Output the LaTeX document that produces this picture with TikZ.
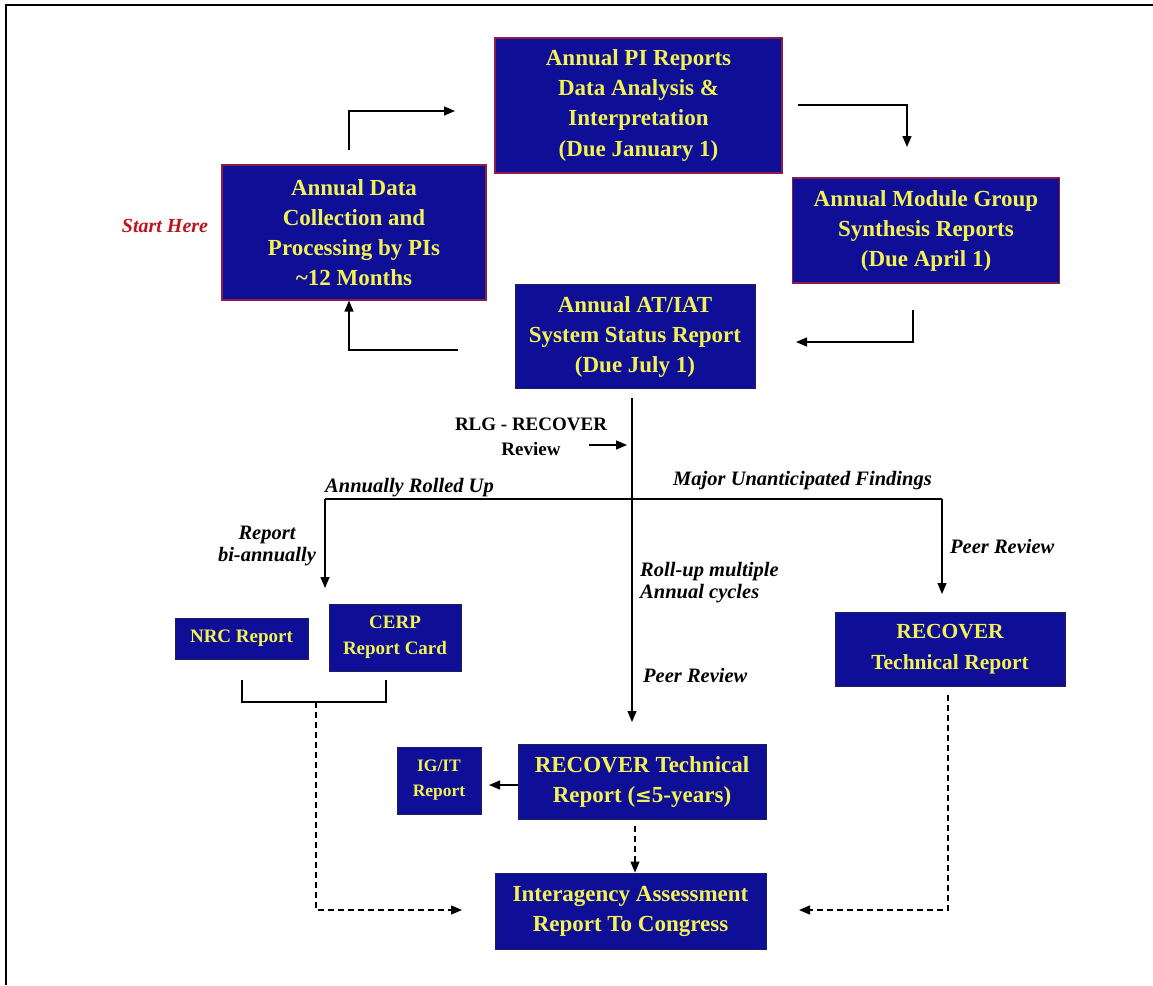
\documentclass[tikz,border=0pt]{standalone}
\usepackage{fontspec}
\setmainfont{Liberation Serif}
\usetikzlibrary{arrows.meta}
\definecolor{boxblue}{RGB}{14,14,150}
\definecolor{boxtext}{RGB}{242,242,84}
\definecolor{boxred}{RGB}{140,30,70}
\definecolor{boxnavy}{RGB}{30,30,90}
\definecolor{startred}{RGB}{190,20,30}
\tikzset{
  boxbase/.style={fill=boxblue, text=boxtext, align=center, inner sep=2pt,
    font=\fontsize{23}{30}\selectfont\bfseries},
  topbox/.style={boxbase, draw=boxred, line width=1.2pt},
  lowbox/.style={boxbase, draw=boxnavy, line width=1pt},
  tip/.style={-{Triangle[length=11pt,width=9pt]}},
  arr/.style={line width=1.3pt, tip},
  plain/.style={line width=1.3pt},
  dasharr/.style={line width=1.3pt, dash pattern=on 6pt off 4pt, tip},
  lab/.style={font=\fontsize{20.5}{22}\selectfont\bfseries\itshape, inner sep=0pt},
  blab/.style={font=\fontsize{19}{25}\selectfont\bfseries, inner sep=0pt, align=center},
}
\begin{document}
\begin{tikzpicture}[x=1pt,y=-1pt]
\useasboundingbox (0,0) rectangle (1153,985);
\fill[white] (0,0) rectangle (1153,985);
% frame
\draw[line width=2pt] (6,985) -- (6,5) -- (1153,5);

% boxes
\node[topbox, minimum width=287, minimum height=135] (pi) at (638.5,105.5)
  {Annual PI Reports\\Data Analysis \&\\Interpretation\\(Due January 1)};
\node[topbox, minimum width=264, minimum height=135] (data) at (354,232.5)
  {Annual Data\\Collection and\\Processing by PIs\\\textasciitilde12 Months};
\node[topbox, minimum width=267, minimum height=105] (mod) at (926,230.5)
  {Annual Module Group\\Synthesis Reports\\(Due April 1)};
\node[lowbox, minimum width=240, minimum height=104] (at) at (635,336.5)
  {Annual AT/IAT\\System Status Report\\(Due July 1)};
\node[lowbox, minimum width=133, minimum height=41, font=\fontsize{19}{26}\selectfont\bfseries] (nrc) at (241.5,638.5)
  {NRC Report};
\node[lowbox, minimum width=132, minimum height=67, font=\fontsize{19}{26}\selectfont\bfseries] (cerp) at (395,637.5)
  {CERP\\Report Card};
\node[lowbox, minimum width=230, minimum height=74, font=\fontsize{21.5}{31}\selectfont\bfseries] (rtr) at (950,649.5)
  {RECOVER\\Technical Report};
\node[lowbox, minimum width=84, minimum height=67, font=\fontsize{17.5}{25}\selectfont\bfseries] (igit) at (439,780.5)
  {IG/IT\\Report};
\node[lowbox, minimum width=248, minimum height=75] (rtr5) at (642,781.5)
  {RECOVER Technical\\Report ({\fontspec{DejaVu Serif}\fontsize{20}{30}\selectfont\bfseries ≤}5-years)};
\node[lowbox, minimum width=271, minimum height=76] (iar) at (630.5,911)
  {Interagency Assessment\\Report To Congress};

% labels
\node[font=\fontsize{20}{22}\selectfont\bfseries\itshape, text=startred, inner sep=0pt] (start) at (165,226) {Start Here};
\node[blab] (rlg) at (531,437) {RLG - RECOVER\\Review};
\node[lab, anchor=west] (annual) at (325,488) {Annually Rolled Up};
\node[lab, anchor=east] (major) at (932,481) {Major Unanticipated Findings};
\node[lab, align=center] (biann) at (267,546) {Report\\bi-annually};
\node[lab, align=left, anchor=west] (rollup) at (640,583) {Roll-up multiple\\Annual cycles};
\node[lab, anchor=west] (peer1) at (643,675) {Peer Review};
\node[lab, anchor=west] (peer2) at (950,546) {Peer Review};

% top cycle connectors
\coordinate (c1) at (349,150);
\coordinate (c2) at (349,111);
\coordinate (c3) at (455,111);
\draw[arr] (c1) -- (c2) -- (c3);
\coordinate (c4) at (798,105);
\coordinate (c5) at (907,105);
\coordinate (c6) at (907,147);
\draw[arr] (c4) -- (c5) -- (c6);
\coordinate (c7) at (913,310);
\coordinate (c8) at (913,342);
\coordinate (c9) at (796,342);
\draw[arr] (c7) -- (c8) -- (c9);
\coordinate (c10) at (458,350);
\coordinate (c11) at (349,350);
\draw[arr] (c10) -- (c11) -- (c11 |- data.south);

% main vertical
\coordinate (c12) at (632,398);
\coordinate (c13) at (632,722);
\draw[arr] (c12) -- (c13);
\coordinate (c14) at (589,445);
\coordinate (c15) at (627,445);
\draw[arr] (c14) -- (c15);

% branch line
\coordinate (c16) at (325,499);
\coordinate (c17) at (942,499);
\coordinate (c18) at (325,588);
\coordinate (c19) at (942,594);
\draw[plain] (c16) -- (c17);
\draw[arr] (c16) -- (c18);
\draw[arr] (c17) -- (c19);

% bracket below NRC / CERP
\coordinate (b1) at (242,680);
\coordinate (b2) at (242,702);
\coordinate (b3) at (386,702);
\coordinate (b4) at (386,680);
\draw[plain] (b1) -- (b2) -- (b3) -- (b4);
\coordinate (b5) at (316,702);
\coordinate (b6) at (316,910);
\coordinate (b7) at (462,910);
\draw[dasharr] (b5) -- (b6) -- (b7);

% right dashed
\coordinate (r1) at (948,695);
\coordinate (r2) at (948,910);
\coordinate (r3) at (799,910);
\draw[dasharr] (r1) -- (r2) -- (r3);

% IG/IT arrow
\coordinate (g1) at (489,785);
\draw[arr] (rtr5.west |- g1) -- (g1);

% dashed down to IAR
\coordinate (d1) at (635,826);
\draw[dasharr] (d1) -- (d1 |- iar.north);
\end{tikzpicture}
\end{document}
